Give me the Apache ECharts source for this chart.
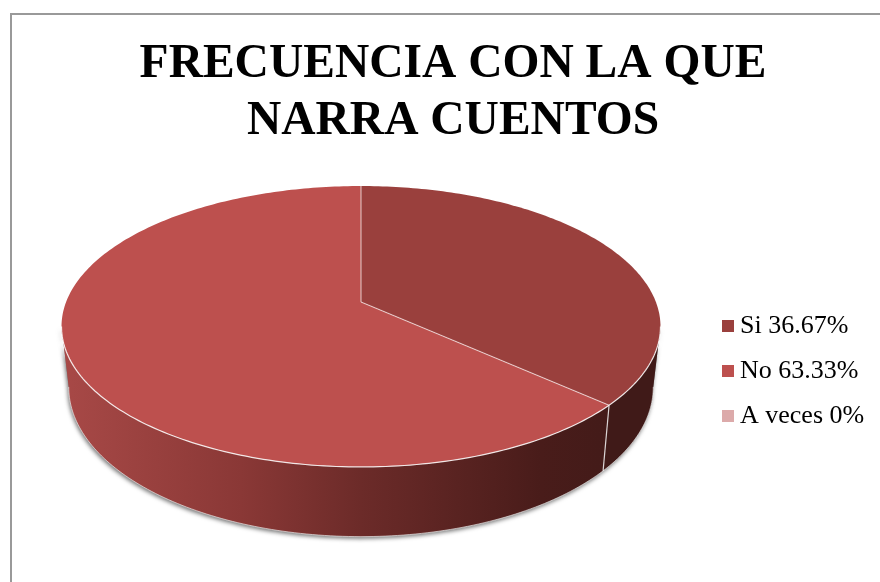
<!DOCTYPE html>
<html>
<head>
<meta charset="utf-8">
<style>
  html, body { margin: 0; padding: 0; background: #fff; }
  #chart { width: 880px; height: 582px; }
</style>
<script src="https://cdn.jsdelivr.net/npm/echarts@6/dist/echarts.min.js"></script>
</head>
<body>
<div id="chart"></div>
<script>
const categories = ['Si', 'No', 'A veces']
const values = [36.67, 63.33, 0]
const valueLabels = ['36.67%', '63.33%', '0%']
const colors = ['#9a403d', '#bd504e', '#dcaaaa']

// perspective disc: top face and bottom face of the pie
const topFace = { cx: 361, cy: 302, a: 294.9, b: 136.2, p: 0.1744 }
const bottomFace = { cx: 361, cy: 361, a: 287.8, b: 145, p: 0.1744 }
const VISIBLE_FROM = 100
const VISIBLE_TO = 260

const total = values.reduce((sum, v) => sum + v, 0)

function rimPoint(face, deg) {
  const rad = (deg * Math.PI) / 180
  const u = Math.sin(rad)
  const v = Math.cos(rad)
  const w = 1 + face.p * v
  return [face.cx + (face.a * u) / w, face.cy - (face.b * v) / w]
}

function arcPoints(face, from, to) {
  const pts = []
  const steps = Math.max(1, Math.ceil(Math.abs(to - from)))
  for (let i = 0; i <= steps; i++) {
    pts.push(rimPoint(face, from + ((to - from) * i) / steps))
  }
  return pts
}

function sideFill(index) {
  if (index === 0) return '#401a18'
  return new echarts.graphic.LinearGradient(61, 0, 660, 0, [
    { offset: 0, color: '#a84947' },
    { offset: 0.3, color: '#8a3836' },
    { offset: 0.5, color: '#6c2b29' },
    { offset: 0.8, color: '#491c1a' },
    { offset: 1, color: '#3f1a18' },
  ], true)
}

function renderSlice(index) {
  return function (params, api) {
    const value = api.value(0)
    if (!value) return null
    const before = values.slice(0, index).reduce((sum, v) => sum + v, 0)
    const start = (before / total) * 360
    const end = ((before + value) / total) * 360
    const children = []

    const sideFrom = Math.max(start, VISIBLE_FROM)
    const sideTo = Math.min(end, VISIBLE_TO)
    if (sideFrom < sideTo) {
      const side = arcPoints(topFace, sideFrom, sideTo).concat(arcPoints(bottomFace, sideTo, sideFrom))
      children.push({
        type: 'polygon',
        z2: 0,
        shape: { points: side },
        style: {
          fill: '#777',
          shadowBlur: 4,
          shadowColor: 'rgba(0,0,0,0.55)',
          shadowOffsetX: -1,
          shadowOffsetY: 2,
        },
      })
      children.push({
        type: 'polygon',
        z2: 1,
        shape: { points: side },
        style: { fill: sideFill(index) },
      })
      children.push({
        type: 'polyline',
        z2: 3,
        shape: { points: arcPoints(bottomFace, sideFrom, sideTo) },
        style: { fill: null, stroke: 'rgba(255,255,255,0.6)', lineWidth: 1 },
      })
      children.push({
        type: 'polyline',
        z2: 4,
        shape: { points: arcPoints(topFace, sideFrom, sideTo) },
        style: { fill: null, stroke: 'rgba(255,255,255,0.85)', lineWidth: 1.2 },
      })
    }

    const apex = [topFace.cx, topFace.cy]
    children.push({
      type: 'polygon',
      z2: 2,
      shape: { points: [apex].concat(arcPoints(topFace, start, end)) },
      style: { fill: colors[index] },
    })
    children.push({
      type: 'polyline',
      z2: 5,
      shape: { points: [apex, rimPoint(topFace, start)] },
      style: { fill: null, stroke: 'rgba(255,255,255,0.6)', lineWidth: 1.2 },
    })
    if (start >= VISIBLE_FROM && start <= VISIBLE_TO) {
      children.push({
        type: 'polyline',
        z2: 5,
        shape: { points: [rimPoint(topFace, start), rimPoint(bottomFace, start)] },
        style: { fill: null, stroke: 'rgba(255,255,255,0.8)', lineWidth: 1.2 },
      })
    }
    return { type: 'group', children: children }
  }
}

const legendNames = categories.map((name, i) => name + ' ' + valueLabels[i])

const chart = echarts.init(document.getElementById('chart'), null, { renderer: 'canvas' })
chart.setOption({
  animation: false,
  backgroundColor: '#fff',
  title: {
    text: 'FRECUENCIA CON LA QUE\nNARRA CUENTOS',
    left: 448,
    top: 31,
    textAlign: 'center',
    textStyle: {
      fontFamily: 'Liberation Serif',
      fontWeight: 'bold',
      fontSize: 47.5,
      lineHeight: 57,
      color: '#000',
    },
  },
  legend: {
    orient: 'vertical',
    left: 717,
    top: 308,
    icon: 'rect',
    itemWidth: 12,
    itemHeight: 12,
    itemGap: 19,
    data: legendNames,
    selectedMode: false,
    textStyle: {
      fontFamily: 'Liberation Serif',
      fontSize: 26,
      lineHeight: 26,
      color: '#000',
      padding: [0, 0, 0, 1],
    },
  },
  graphic: [
    {
      type: 'polyline',
      silent: true,
      shape: { points: [[11, 582], [11, 14], [880, 14]] },
      style: { fill: null, stroke: '#999', lineWidth: 2 },
    },
  ],
  series: categories.map((name, i) => ({
    type: 'custom',
    name: legendNames[i],
    coordinateSystem: 'none',
    itemStyle: { color: colors[i] },
    renderItem: renderSlice(i),
    data: [[values[i]]],
    silent: true,
  })),
})
</script>
</body>
</html>
